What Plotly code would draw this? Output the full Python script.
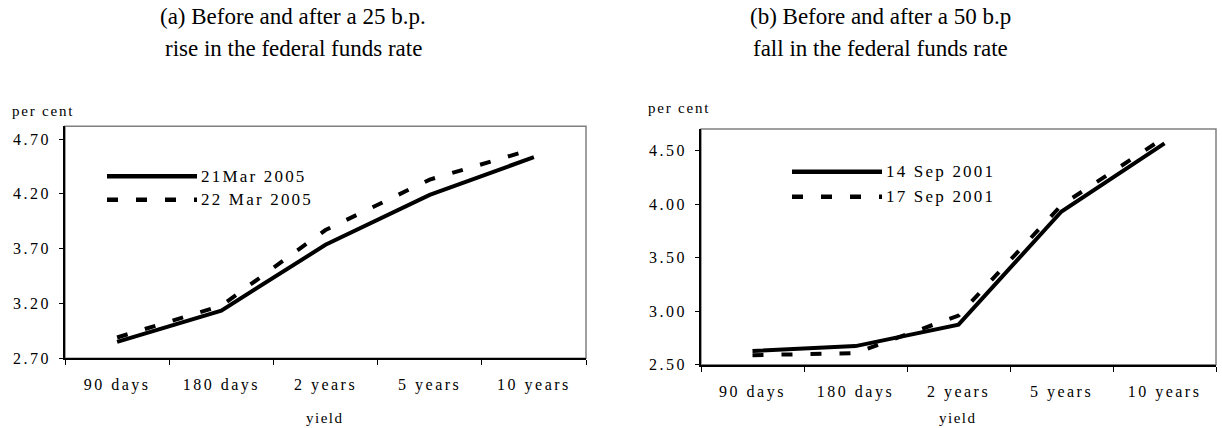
import plotly.graph_objects as go

# ---- data ----
categories = ["90 days", "180 days", "2 years", "5 years", "10 years"]
mar21_2005 = [2.85, 3.135, 3.735, 4.19, 4.535]
mar22_2005 = [2.89, 3.18, 3.87, 4.33, 4.61]
sep14_2001 = [2.63, 2.675, 2.875, 3.93, 4.565]
sep17_2001 = [2.59, 2.61, 2.96, 3.99, 4.62]
ticks_a = [2.70, 3.20, 3.70, 4.20, 4.70]
ticks_b = [2.50, 3.00, 3.50, 4.00, 4.50]

W, H = 1222, 428
FONT = "Liberation Serif"


def ls(t, px=2.5):
    return (f'<span style="font-family:Liberation Serif;'
            f'letter-spacing:{px}px">{t}</span>')


def px_x(v):
    return v / W


def px_y(v):
    return (H - v) / H


fig = go.Figure()

DASH = "11px,18px"
fig.add_trace(go.Scatter(x=categories, y=mar21_2005, mode="lines",
                         line=dict(color="black", width=4),
                         xaxis="x", yaxis="y", showlegend=False, name="21Mar 2005"))
fig.add_trace(go.Scatter(x=categories, y=mar22_2005, mode="lines",
                         line=dict(color="black", width=4, dash=DASH),
                         xaxis="x", yaxis="y", showlegend=False, name="22 Mar 2005"))
fig.add_trace(go.Scatter(x=categories, y=sep14_2001, mode="lines",
                         line=dict(color="black", width=4),
                         xaxis="x2", yaxis="y2", showlegend=False, name="14 Sep 2001"))
fig.add_trace(go.Scatter(x=categories, y=sep17_2001, mode="lines",
                         line=dict(color="black", width=4, dash=DASH),
                         xaxis="x2", yaxis="y2", showlegend=False, name="17 Sep 2001"))

xcommon = dict(type="category", range=[-0.5, 4.5], tickson="boundaries",
               ticks="outside", ticklen=5, tickcolor="black", tickwidth=1,
               showline=True, linecolor="black", linewidth=1.5,
               showgrid=False, zeroline=False,
               tickvals=categories, ticktext=[ls(c) for c in categories],
               tickfont=dict(family=FONT, size=16, color="black"),
               ticklabelstandoff=11)
ycommon = dict(ticks="outside", ticklen=4, tickcolor="black", tickwidth=1,
               showline=True, linecolor="black", linewidth=1.5,
               showgrid=False, zeroline=False,
               tickfont=dict(family=FONT, size=16, color="black"),
               ticklabelstandoff=5)

fig.update_layout(
    width=W, height=H,
    margin=dict(l=0, r=0, t=0, b=0),
    paper_bgcolor="white", plot_bgcolor="white",
    font=dict(family=FONT, color="black"),
    xaxis=dict(domain=[px_x(65), px_x(586)], anchor="y", **xcommon),
    yaxis=dict(domain=[px_y(366), px_y(129)], anchor="x", range=[2.70, 4.816],
               tickvals=ticks_a, ticktext=[ls(f"{v:.2f}") for v in ticks_a], **ycommon),
    xaxis2=dict(domain=[px_x(701), px_x(1216)], anchor="y2", **xcommon),
    yaxis2=dict(domain=[px_y(372.7), px_y(131.7)], anchor="x2", range=[2.50, 4.70],
                tickvals=ticks_b, ticktext=[ls(f"{v:.2f}") for v in ticks_b], **ycommon),
)

shapes = []
for xr, yr in (("x domain", "y domain"), ("x2 domain", "y2 domain")):
    shapes.append(dict(type="rect", xref=xr, yref=yr, x0=0, x1=1, y0=0, y1=1,
                       line=dict(color="#808080", width=1.5), layer="below"))

# legend keys
legends = [
    (107, 197, 180, 204, "21Mar 2005", "22 Mar 2005"),
    (792, 882, 175.5, 201, "14 Sep 2001", "17 Sep 2001"),
]
annotations = []
for x0, x1, ys, yd, ts, td in legends:
    shapes.append(dict(type="line", xref="paper", yref="paper",
                       x0=px_x(x0), x1=px_x(x1), y0=px_y(ys), y1=px_y(ys),
                       line=dict(color="black", width=4.5)))
    shapes.append(dict(type="line", xref="paper", yref="paper",
                       x0=px_x(x0), x1=px_x(x1), y0=px_y(yd), y1=px_y(yd),
                       line=dict(color="black", width=4.5, dash=DASH)))
    for t, yy in ((ts, ys), (td, yd)):
        annotations.append(dict(text=ls(t, 2.2), x=px_x(x1 + 2), y=px_y(yy),
                                xref="paper", yref="paper", xanchor="left",
                                yanchor="middle", showarrow=False,
                                font=dict(family=FONT, size=17, color="black")))

# axis captions
for x, y, t in ((10, 113, "per cent"), (646, 110, "per cent")):
    annotations.append(dict(text=ls(t, 1.8), x=px_x(x), y=px_y(y), xref="paper",
                            yref="paper", xanchor="left", yanchor="middle",
                            showarrow=False, font=dict(family=FONT, size=15, color="black")))
for x, y in ((325, 427), (958, 427)):
    annotations.append(dict(text=ls("yield", 1.5), x=px_x(x), y=px_y(y), xref="paper",
                            yref="paper", xanchor="center", yanchor="middle",
                            showarrow=False, font=dict(family=FONT, size=15, color="black")))

# titles
titles = [
    (293, "(a) Before and after a 25 b.p.", "rise in the federal funds rate"),
    (880, "(b) Before and after a 50 b.p", "fall in the federal funds rate"),
]
for x, l1, l2 in titles:
    for t, y in ((l1, 17), (l2, 50)):
        annotations.append(dict(text=t, x=px_x(x), y=px_y(y), xref="paper",
                                yref="paper", xanchor="center", yanchor="middle",
                                showarrow=False, font=dict(family=FONT, size=23, color="black")))

fig.update_layout(shapes=shapes, annotations=annotations)
fig.write_html("out.html")
